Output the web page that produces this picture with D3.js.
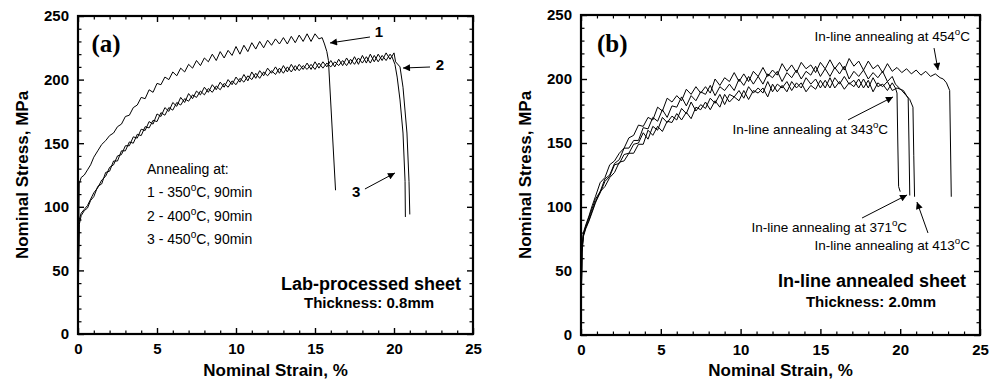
<!DOCTYPE html>
<html>
<head>
<meta charset="utf-8">
<script src="https://cdn.jsdelivr.net/npm/d3@7"></script>
<style>
  body { margin: 0; background: #fff; }
  svg text { fill: #000; }
</style>
</head>
<body>
<svg id="chart" width="998" height="386"></svg>
<script>
// axis ticks (both panels)
const strainTicks = [0, 5, 10, 15, 20, 25];
const strainMinor = [1, 2, 3, 4, 6, 7, 8, 9, 11, 12, 13, 14, 16, 17, 18, 19, 21, 22, 23, 24];
const stressTicks = [0, 50, 100, 150, 200, 250];
const stressMinor = [10, 20, 30, 40, 60, 70, 80, 90, 110, 120, 130, 140, 160, 170, 180, 190, 210, 220, 230, 240];

// (a) lab-processed sheet, [strain %, stress MPa]
const lab350 = [[0,0],[0.04,70],[0.08,118],[0.2,123],[0.4,125],[0.6,129],[0.8,133],[1.0,139],[1.25,144],[1.5,149],[1.75,152],[2.0,156],[2.25,158],[2.5,163],[2.75,165],[3.0,171],[3.25,172],[3.5,178],[3.75,180],[4.0,186],[4.25,185],[4.5,192],[4.75,190],[5.0,197],[5.25,196],[5.5,202],[5.75,200],[6.0,206],[6.25,203],[6.5,209],[6.75,206],[7.0,212],[7.25,209],[7.5,215],[7.75,211],[8.0,217],[8.25,214],[8.5,220],[8.75,215],[9.0,222],[9.25,217],[9.5,223],[9.75,219],[10.0,226],[10.25,220],[10.5,227],[10.75,222],[11.0,229],[11.25,224],[11.5,230],[11.75,225],[12.0,231],[12.25,227],[12.5,232],[12.75,228],[13.0,233],[13.25,228],[13.5,234],[13.75,229],[14.0,235],[14.25,230],[14.5,236],[14.75,230],[15.0,236],[15.25,232],[15.45,233],[15.6,228],[15.75,222],[15.85,215],[16.3,113]];
const lab400 = [[0,0],[0.04,60],[0.08,90],[0.2,95],[0.4,98],[0.6,101],[0.8,106],[1.0,111],[1.25,115],[1.5,121],[1.75,124],[2.0,131],[2.25,133],[2.5,140],[2.75,141],[3.0,148],[3.25,148],[3.5,155],[3.75,154],[4.0,161],[4.25,160],[4.5,167],[4.75,165],[5.0,173],[5.25,171],[5.5,178],[5.75,175],[6.0,182],[6.25,179],[6.5,186],[6.75,182],[7.0,189],[7.25,185],[7.5,191],[7.75,188],[8.0,194],[8.25,190],[8.5,196],[8.75,192],[9.0,198],[9.25,194],[9.5,200],[9.75,196],[10.0,202],[10.25,198],[10.5,204],[10.75,199],[11.0,206],[11.25,201],[11.5,207],[11.75,203],[12.0,209],[12.25,205],[12.5,210],[12.75,205],[13.0,211],[13.25,206],[13.5,212],[13.75,207],[14.0,212],[14.25,208],[14.5,213],[14.75,208],[15.0,214],[15.25,209],[15.5,214],[15.75,210],[16.0,215],[16.25,210],[16.5,216],[16.75,211],[17.0,217],[17.25,212],[17.5,218],[17.75,212],[18.0,219],[18.25,213],[18.5,220],[18.75,214],[19.0,220],[19.25,215],[19.5,221],[19.75,216],[20.0,221],[20.1,214],[20.38,210],[20.57,194],[20.82,158],[20.95,120],[21.0,94]];
const lab450 = [[0,0],[0.04,55],[0.08,86],[0.2,93],[0.4,97],[0.6,99],[0.8,105],[1.0,108],[1.25,116],[1.5,118],[1.75,127],[2.0,128],[2.25,136],[2.5,136],[2.75,144],[3.0,144],[3.25,151],[3.5,150],[3.75,157],[4.0,156],[4.25,163],[4.5,162],[4.75,168],[5.0,167],[5.25,174],[5.5,172],[5.75,178],[6.0,176],[6.25,182],[6.5,180],[6.75,185],[7.0,183],[7.25,188],[7.5,186],[7.75,191],[8.0,188],[8.25,193],[8.5,190],[8.75,195],[9.0,192],[9.25,197],[9.5,194],[9.75,199],[10.0,196],[10.25,201],[10.5,198],[10.75,203],[11.0,200],[11.25,205],[11.5,201],[11.75,206],[12.0,203],[12.25,207],[12.5,204],[12.75,209],[13.0,205],[13.25,210],[13.5,206],[13.75,211],[14.0,207],[14.25,211],[14.5,208],[14.75,212],[15.0,208],[15.25,213],[15.5,209],[15.75,213],[16.0,210],[16.25,214],[16.5,211],[16.75,215],[17.0,211],[17.25,216],[17.5,212],[17.75,217],[18.0,213],[18.25,218],[18.5,213],[18.75,219],[19.0,214],[19.25,219],[19.5,215],[19.75,220],[19.87,218],[20.06,212],[20.2,202],[20.38,184],[20.57,158],[20.7,120],[20.72,92]];

// (b) in-line annealed sheet
const inline454 = [[0,0],[0.03,40],[0.06,68],[0.15,80],[0.3,86],[0.5,93],[0.7,101],[0.9,108],[1.2,119],[1.5,123],[1.8,133],[2.1,136],[2.4,142],[2.7,146],[3.0,154],[3.3,156],[3.6,164],[3.9,163],[4.2,170],[4.5,168],[4.8,178],[5.1,175],[5.4,185],[5.7,182],[6.0,187],[6.3,183],[6.6,192],[6.9,188],[7.2,194],[7.5,189],[7.8,194],[8.1,189],[8.4,200],[8.7,195],[9.0,201],[9.3,198],[9.6,205],[9.9,198],[10.2,204],[10.5,198],[10.8,206],[11.1,202],[11.4,209],[11.7,202],[12.0,207],[12.3,203],[12.6,212],[12.9,206],[13.2,211],[13.5,205],[13.8,213],[14.1,208],[14.4,211],[14.7,205],[15.0,213],[15.3,208],[15.6,215],[15.9,208],[16.2,213],[16.5,207],[16.8,216],[17.1,210],[17.4,214],[17.7,207],[18.0,214],[18.3,208],[18.6,211],[18.9,205],[19.2,212],[19.5,206],[19.8,209],[20.1,205],[20.4,208],[20.7,204],[21.0,207],[21.3,203],[21.6,206],[21.9,202],[22.2,204],[22.5,201],[22.7,200],[22.9,197],[23.1,191],[23.15,150],[23.2,108]];
const inline413 = [[0,0],[0.03,38],[0.06,66],[0.15,79],[0.3,85],[0.5,92],[0.7,99],[0.9,106],[1.2,112],[1.5,122],[1.8,125],[2.1,134],[2.4,137],[2.7,146],[3.0,146],[3.3,152],[3.6,152],[3.9,162],[4.2,161],[4.5,170],[4.8,167],[5.1,176],[5.4,170],[5.7,179],[6.0,178],[6.3,186],[6.6,179],[6.9,187],[7.2,183],[7.5,190],[7.8,188],[8.1,195],[8.4,187],[8.7,194],[9.0,191],[9.3,196],[9.6,191],[9.9,200],[10.2,195],[10.5,202],[10.8,196],[11.1,202],[11.4,196],[11.7,204],[12.0,201],[12.3,206],[12.6,198],[12.9,205],[13.2,201],[13.5,207],[13.8,200],[14.1,206],[14.4,203],[14.7,210],[15.0,202],[15.3,208],[15.6,202],[15.9,209],[16.2,204],[16.5,210],[16.8,200],[17.1,206],[17.4,202],[17.7,207],[18.0,200],[18.3,205],[18.6,201],[18.9,206],[19.2,198],[19.5,202],[19.7,196],[20.1,191],[20.6,184],[20.8,178],[20.85,140],[20.9,108]];
const inline371 = [[0,0],[0.03,36],[0.06,64],[0.15,77],[0.3,83],[0.5,89],[0.7,96],[0.9,103],[1.2,112],[1.5,116],[1.8,123],[2.1,127],[2.4,135],[2.7,136],[3.0,142],[3.3,142],[3.6,149],[3.9,149],[4.2,160],[4.5,156],[4.8,163],[5.1,159],[5.4,167],[5.7,166],[6.0,173],[6.3,168],[6.6,174],[6.9,169],[7.2,178],[7.5,176],[7.8,182],[8.1,176],[8.4,183],[8.7,178],[9.0,188],[9.3,182],[9.6,186],[9.9,183],[10.2,191],[10.5,184],[10.8,191],[11.1,189],[11.4,193],[11.7,186],[12.0,196],[12.3,190],[12.6,195],[12.9,190],[13.2,198],[13.5,193],[13.8,197],[14.1,190],[14.4,195],[14.7,192],[15.0,199],[15.3,193],[15.6,201],[15.9,193],[16.2,198],[16.5,192],[16.8,197],[17.1,194],[17.4,200],[17.7,193],[18.0,199],[18.3,190],[18.6,197],[18.9,194],[19.2,198],[19.5,191],[19.8,193],[20.2,191],[20.5,185],[20.55,150],[20.6,109]];
const inline343 = [[0,0],[0.03,37],[0.06,65],[0.15,78],[0.3,84],[0.5,90],[0.7,97],[0.9,104],[1.2,111],[1.5,120],[1.8,124],[2.1,133],[2.4,134],[2.7,141],[3.0,142],[3.3,149],[3.6,150],[3.9,158],[4.2,153],[4.5,163],[4.8,160],[5.1,170],[5.4,166],[5.7,171],[6.0,168],[6.3,177],[6.6,173],[6.9,182],[7.2,175],[7.5,180],[7.8,177],[8.1,185],[8.4,181],[8.7,188],[9.0,180],[9.3,188],[9.6,186],[9.9,191],[10.2,185],[10.5,194],[10.8,189],[11.1,193],[11.4,189],[11.7,198],[12.0,190],[12.3,196],[12.6,193],[12.9,198],[13.2,191],[13.5,197],[13.8,193],[14.1,201],[14.4,196],[14.7,200],[15.0,193],[15.3,199],[15.6,193],[15.9,201],[16.2,196],[16.5,202],[16.8,196],[17.1,199],[17.4,193],[17.7,200],[18.0,193],[18.3,201],[18.6,194],[18.9,196],[19.2,191],[19.5,197],[19.7,193],[19.8,189],[19.85,150],[19.9,116],[20.0,112]];

const svg = d3.select('#chart');

svg.append('defs').append('marker')
  .attr('id', 'head')
  .attr('viewBox', '0 0 10 10')
  .attr('refX', 10).attr('refY', 5)
  .attr('markerUnits', 'userSpaceOnUse')
  .attr('markerWidth', 9).attr('markerHeight', 7)
  .attr('orient', 'auto')
  .append('path').attr('d', 'M0,0 L10,5 L0,10 Z').attr('fill', '#000');

// writes "350°C" with a raised small o, like the original
function label(g, x, y, str, size, weight, anchor) {
  const t = g.append('text')
    .attr('x', x).attr('y', y)
    .attr('font-family', 'Liberation Sans, Arial, sans-serif')
    .attr('font-size', size)
    .attr('font-weight', weight)
    .attr('text-anchor', anchor);
  const parts = str.split('°');
  t.append('tspan').text(parts[0]);
  if (parts.length > 1) {
    t.append('tspan').attr('dy', -size * 0.42).attr('font-size', size * 0.72).text('o');
    t.append('tspan').attr('dy', size * 0.42).text(parts[1]);
  }
  return t;
}

function drawPanel(p) {
  const x = d3.scaleLinear().domain([0, 25]).range([p.left, p.right]);
  const y = d3.scaleLinear().domain([0, 250]).range([p.bottom, p.top]);
  const g = svg.append('g');

  // curves
  const line = d3.line().x(d => x(d[0])).y(d => y(d[1]));
  p.curves.forEach(c => {
    g.append('path').datum(c)
      .attr('fill', 'none').attr('stroke', '#000')
      .attr('stroke-width', 1).attr('stroke-linejoin', 'round')
      .attr('d', line);
  });

  // axes, ticks pointing inwards on all four sides
  const axes = [
    [d3.axisBottom(x), `translate(0,${p.bottom})`, strainTicks, strainMinor, true],
    [d3.axisTop(x), `translate(0,${p.top})`, strainTicks, strainMinor, false],
    [d3.axisLeft(y), `translate(${p.left},0)`, stressTicks, stressMinor, true],
    [d3.axisRight(y), `translate(${p.right},0)`, stressTicks, stressMinor, false]
  ];
  axes.forEach(([ax, tr, major, minor, showLabels]) => {
    const a = g.append('g').attr('transform', tr)
      .call(ax.tickValues(major).tickSize(-6).tickPadding(9)
        .tickFormat(showLabels ? d3.format('d') : ''));
    a.select('.domain').remove();
    a.selectAll('line').attr('stroke', '#000').attr('stroke-width', 1.4);
    a.selectAll('text')
      .attr('font-family', 'Liberation Sans, Arial, sans-serif')
      .attr('font-size', 15).attr('font-weight', 'bold').attr('fill', '#000');
    const m = g.append('g').attr('transform', tr)
      .call(ax.tickValues(minor).tickSize(-3.5).tickFormat(''));
    m.select('.domain').remove();
    m.selectAll('line').attr('stroke', '#000').attr('stroke-width', 1.2);
  });

  g.append('rect')
    .attr('x', p.left).attr('y', p.top)
    .attr('width', p.right - p.left).attr('height', p.bottom - p.top)
    .attr('fill', 'none').attr('stroke', '#000').attr('stroke-width', 2.2);

  // axis titles
  label(g, (p.left + p.right) / 2, 376, 'Nominal Strain, %', 17, 'bold', 'middle');
  label(g, 0, 0, 'Nominal Stress, MPa', 17, 'bold', 'middle')
    .attr('transform', `translate(${p.left - 50},${(p.top + p.bottom) / 2}) rotate(-90)`);

  // panel tag
  g.append('text')
    .attr('x', x(p.tag[1])).attr('y', y(p.tag[2]))
    .attr('font-family', 'Liberation Serif, Times New Roman, serif')
    .attr('font-size', 25).attr('font-weight', 'bold')
    .text(p.tag[0]);

  p.notes.forEach(n => label(g, x(n.at[0]), y(n.at[1]), n.text, n.size, n.weight, n.anchor));

  p.arrows.forEach(a => {
    g.append('line')
      .attr('x1', x(a[0])).attr('y1', y(a[1]))
      .attr('x2', x(a[2])).attr('y2', y(a[3]))
      .attr('stroke', '#000').attr('stroke-width', 1)
      .attr('marker-end', 'url(#head)');
  });
}

drawPanel({
  left: 78, right: 473, top: 16, bottom: 334,
  curves: [lab450, lab400, lab350],
  tag: ['(a)', 0.85, 222],
  notes: [
    { text: 'Annealing at:', at: [4.37, 126], size: 14, weight: 'normal', anchor: 'start' },
    { text: '1 - 350°C, 90min', at: [4.37, 107.5], size: 14, weight: 'normal', anchor: 'start' },
    { text: '2 - 400°C, 90min', at: [4.37, 89], size: 14, weight: 'normal', anchor: 'start' },
    { text: '3 - 450°C, 90min', at: [4.37, 71], size: 14, weight: 'normal', anchor: 'start' },
    { text: '1', at: [19.05, 233.5], size: 15, weight: 'bold', anchor: 'middle' },
    { text: '2', at: [22.9, 207.5], size: 15, weight: 'bold', anchor: 'middle' },
    { text: '3', at: [17.6, 107.7], size: 15, weight: 'bold', anchor: 'middle' },
    { text: 'Lab-processed sheet', at: [18.54, 34.6], size: 18, weight: 'bold', anchor: 'middle' },
    { text: 'Thickness: 0.8mm', at: [18.42, 20.4], size: 15, weight: 'bold', anchor: 'middle' }
  ],
  arrows: [
    [18.48, 233.5, 15.95, 228.8],
    [22.28, 209.9, 20.57, 209.1],
    [18.16, 114, 20.06, 126.6]
  ]
});

drawPanel({
  left: 581, right: 980, top: 15, bottom: 335,
  curves: [inline343, inline371, inline413, inline454],
  tag: ['(b)', 1.0, 221],
  notes: [
    { text: 'In-line annealing at 454°C', at: [24.37, 229.7], size: 13.5, weight: 'normal', anchor: 'end' },
    { text: 'In-line annealing at 343°C', at: [19.24, 157], size: 13.5, weight: 'normal', anchor: 'end' },
    { text: 'In-line annealing at 371°C', at: [20.43, 80.5], size: 13.5, weight: 'normal', anchor: 'end' },
    { text: 'In-line annealing at 413°C', at: [24.37, 66.4], size: 13.5, weight: 'normal', anchor: 'end' },
    { text: 'In-line annealed sheet', at: [18.23, 37.5], size: 18, weight: 'bold', anchor: 'middle' },
    { text: 'Thickness: 2.0mm', at: [18.17, 21.9], size: 15, weight: 'bold', anchor: 'middle' }
  ],
  arrows: [
    [22.12, 224.2, 22.37, 207],
    [16.73, 168, 19.55, 186],
    [17.61, 91.4, 20.43, 109.4],
    [21.74, 79.7, 21.05, 103.9]
  ]
});
</script>
</body>
</html>
